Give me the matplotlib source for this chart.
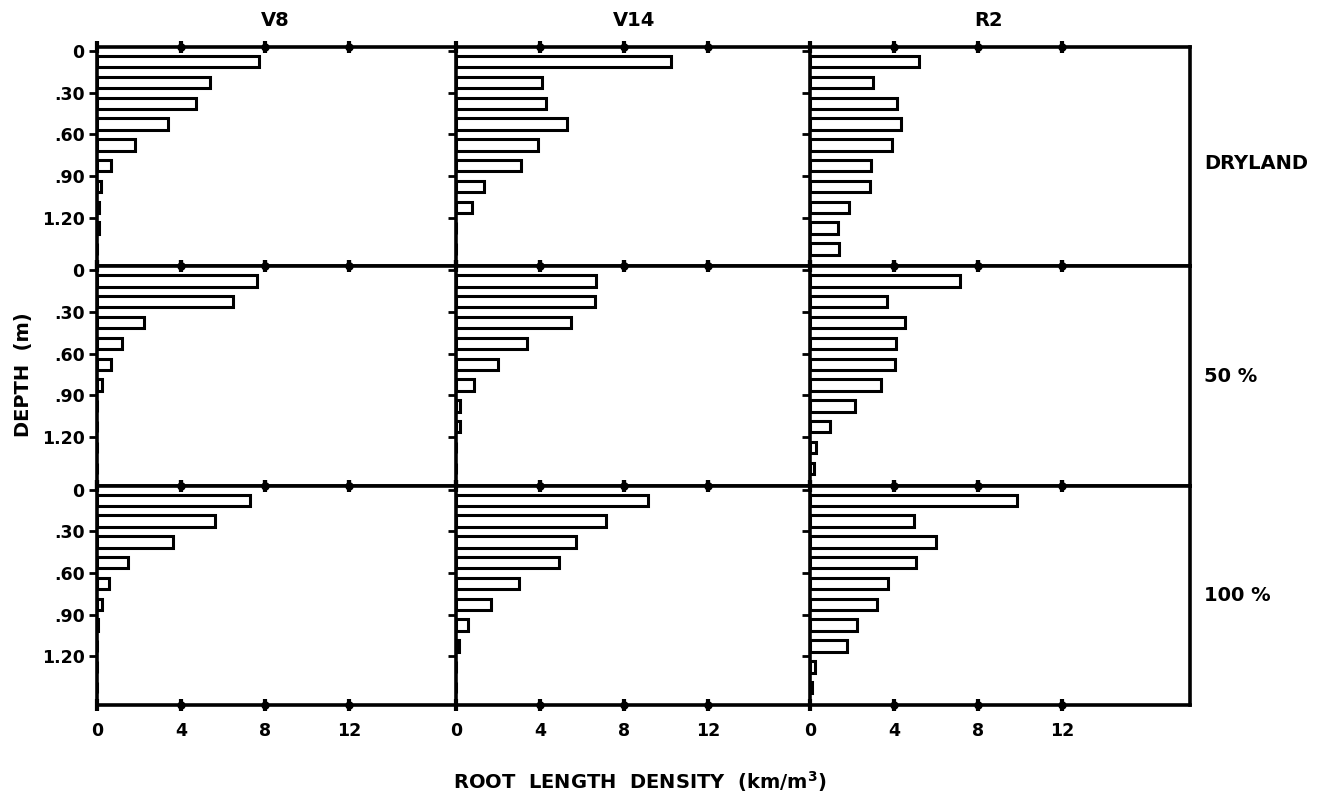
import matplotlib
matplotlib.use("Agg")
import matplotlib.pyplot as plt
import matplotlib.transforms as mtransforms

plt.rcParams['font.family'] = ['DejaVu Sans']

# ---- data ----
stages = ["V8", "V14", "R2"]
treatments = ["DRYLAND", "50 %", "100 %"]
depth_mid = [0.075, 0.225, 0.375, 0.525, 0.675, 0.825, 0.975, 1.125, 1.275, 1.425]

v8_dry = [7.7, 5.4, 4.7, 3.4, 1.8, 0.65, 0.2, 0.1, 0.1, 0.0]
v14_dry = [10.25, 4.1, 4.3, 5.3, 3.9, 3.1, 1.35, 0.75, 0.0, 0.0]
r2_dry = [5.2, 3.0, 4.15, 4.35, 3.9, 2.9, 2.85, 1.85, 1.35, 1.4]

v8_50 = [7.6, 6.5, 2.25, 1.2, 0.65, 0.25, 0.0, 0.0, 0.0, 0.0]
v14_50 = [6.65, 6.6, 5.45, 3.4, 2.0, 0.85, 0.2, 0.2, 0.0, 0.0]
r2_50 = [7.15, 3.65, 4.55, 4.1, 4.05, 3.4, 2.15, 0.95, 0.3, 0.2]

v8_100 = [7.3, 5.6, 3.6, 1.5, 0.55, 0.25, 0.05, 0.0, 0.0, 0.0]
v14_100 = [9.15, 7.15, 5.7, 4.9, 3.0, 1.65, 0.55, 0.15, 0.0, 0.0]
r2_100 = [9.85, 4.95, 6.0, 5.05, 3.7, 3.2, 2.25, 1.75, 0.25, 0.1]

grid = [[v8_dry, v14_dry, r2_dry],
        [v8_50, v14_50, r2_50],
        [v8_100, v14_100, r2_100]]

x_ticks = [0, 4, 8, 12]
x_ticklabels = ["0", "4", "8", "12"]
y_ticks = [0, 0.30, 0.60, 0.90, 1.20]
y_ticklabels = ["0", ".30", ".60", ".90", "1.20"]

# ---- layout ----
W, H = 1340, 810
fig = plt.figure(figsize=(W / 100, H / 100), dpi=100)
col_xmax = [17.1, 16.85, 18.1]
gs = fig.add_gridspec(3, 3, left=97 / W, right=1190 / W, top=1 - 47 / H, bottom=1 - 705 / H,
                      wspace=0, hspace=0, width_ratios=col_xmax)

lw = 2.6
for r in range(3):
    for c in range(3):
        ax = fig.add_subplot(gs[r, c])
        vals = grid[r][c]
        ax.barh(depth_mid, vals, height=0.082, color="white", edgecolor="black", linewidth=2.2, zorder=2)
        ax.set_xlim(0, col_xmax[c])
        ax.set_ylim(1.55, -0.03)
        for s in ax.spines.values():
            s.set_linewidth(lw)
        ax.spines['right'].set_visible(c == 2)
        ax.set_yticks(y_ticks)
        ax.set_xticks(x_ticks)
        ax.tick_params(axis='y', direction='out', length=6, width=2, labelsize=12.5, pad=3,
                       labelleft=(c == 0), right=False)
        ax.tick_params(axis='x', direction='inout', length=8, width=3, labelsize=12.5, pad=8,
                       top=True, bottom=True, labelbottom=(r == 2))
        if c == 0:
            ax.set_yticklabels(y_ticklabels, fontweight='bold')
        if r == 2:
            ax.set_xticklabels(x_ticklabels, fontweight='bold')
        # tick dots on top and bottom spines
        for yv in (1.55, -0.03):
            ax.plot(x_ticks[1:], [yv] * 3, 'o', color='black', markersize=5, clip_on=False, zorder=5)
        if r == 0:
            ax.text(8.5, 1.0 + 17 / 220, stages[c],
                    transform=mtransforms.blended_transform_factory(ax.transData, ax.transAxes),
                    ha='center', va='bottom', fontsize=14, fontweight='bold')
        if c == 2:
            ax.text(1.0 + 14 / 380 if r == 0 else 1.0 + 14 / 380, 0.47 if r == 0 else 0.5,
                    treatments[r], transform=ax.transAxes, ha='left', va='center',
                    fontsize=14, fontweight='bold')

fig.text(640 / W, 1 - 782 / H, "ROOT  LENGTH  DENSITY  (km/m$^{\\mathbf{3}}$)", ha='center', va='center',
         fontsize=14, fontweight='bold')
fig.text(24 / W, 1 - 375 / H, "DEPTH  (m)", ha='center', va='center', rotation=90,
         fontsize=14, fontweight='bold')

fig.savefig("out.png", dpi=100, facecolor="white")
